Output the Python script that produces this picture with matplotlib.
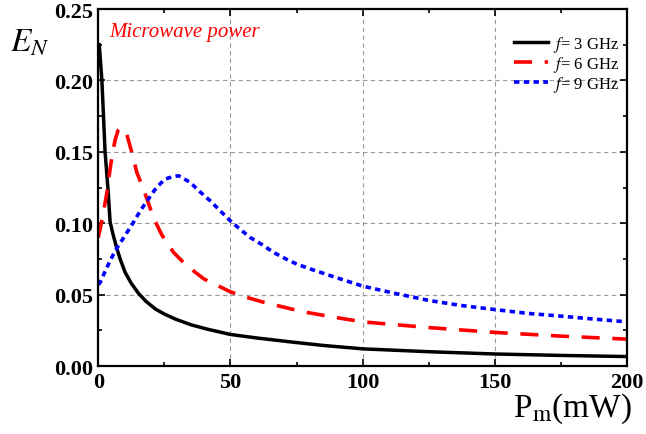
import matplotlib
matplotlib.use("Agg")
import matplotlib.pyplot as plt
from matplotlib.ticker import MultipleLocator, FormatStrFormatter

plt.rcParams["font.family"] = ["Liberation Serif", "DejaVu Serif"]
plt.rcParams["mathtext.fontset"] = "stix"

# f = 3 GHz
x3 = [0.4, 1.4, 2.6, 3.7, 4.5, 5.5, 7.1, 8.5, 10.2, 12.5, 15.2, 18, 21.6, 25, 29.1, 35, 41, 49.9,
      60, 72.6, 85, 100, 125, 150, 175, 200]
y3 = [0.225, 0.20, 0.15, 0.124, 0.101, 0.093, 0.082, 0.074, 0.0656, 0.058, 0.051, 0.0455, 0.040,
      0.0365, 0.033, 0.029, 0.026, 0.0222, 0.0197, 0.0170, 0.0145, 0.0121, 0.0101, 0.0085, 0.0075, 0.0067]
# f = 6 GHz
x6 = [0, 0.75, 2, 3.3, 4.5, 5.5, 6.5, 7.5, 8.7, 10, 11, 12.8, 14.6, 17.1, 20.9, 24, 28.5, 32, 36, 40,
      45.4, 50, 56.2, 62, 67, 73, 78.9, 90, 100, 125, 150, 175, 200]
y6 = [0.090, 0.096, 0.108, 0.1216, 0.138, 0.150, 0.159, 0.165, 0.167, 0.165, 0.161, 0.149, 0.1356,
      0.124, 0.104, 0.092, 0.0796, 0.073, 0.0667, 0.061, 0.0562, 0.052, 0.0481, 0.045, 0.0427, 0.040,
      0.0376, 0.034, 0.031, 0.027, 0.0236, 0.021, 0.0189]
# f = 9 GHz
x9 = [0, 0.75, 3, 6.4, 10, 13.3, 16, 19, 22, 25.3, 28, 30.4, 34.8, 38.5, 42.3, 46, 49.9, 53.5, 57.5,
      62, 66.3, 71, 75.1, 80.2, 90, 100, 112, 125, 137, 150, 162, 175, 187, 200]
y9 = [0.057, 0.0586, 0.068, 0.0807, 0.091, 0.1006, 0.109, 0.117, 0.125, 0.131, 0.1325, 0.1333, 0.1286,
      0.122, 0.1158, 0.109, 0.1018, 0.096, 0.090, 0.085, 0.0796, 0.075, 0.0714, 0.068, 0.062, 0.056,
      0.051, 0.046, 0.0425, 0.0396, 0.037, 0.035, 0.033, 0.031]

fig = plt.figure(figsize=(6.46, 4.35), dpi=100)
ax = fig.add_axes([0.152, 0.156, 0.819, 0.821])

ax.plot(x3, y3, color="black", lw=2.5, label=r"$f$= 3 GHz")
ax.plot(x6, y6, color="red", lw=2.6, dashes=(5, 3.5), label=r"$f$= 6 GHz")
ax.plot(x9, y9, color="blue", lw=2.6, dashes=(1.5, 1.2), label=r"$f$= 9 GHz")

ax.set_xlim(0, 200)
ax.set_ylim(0, 0.25)
ax.xaxis.set_major_locator(MultipleLocator(50))
ax.xaxis.set_minor_locator(MultipleLocator(25))
ax.yaxis.set_major_locator(MultipleLocator(0.05))
ax.yaxis.set_minor_locator(MultipleLocator(0.025))
ax.yaxis.set_major_formatter(FormatStrFormatter("%.2f"))
ax.grid(True, which="major", color="#999999", ls=(0, (4, 3)), lw=0.8)
ax.tick_params(which="both", direction="in", top=True, right=True, width=1.2)
ax.tick_params(which="major", length=5, labelsize=16, pad=4)
ax.tick_params(which="minor", length=3)
for lab in ax.get_xticklabels() + ax.get_yticklabels():
    lab.set_fontweight("bold")
for s in ax.spines.values():
    s.set_linewidth(1.6)

fig.text(0.015, 0.885, r"$E_N$", fontsize=24)
fig.text(0.978, 0.02, r"P$_{\mathrm{m}}$(mW)", fontsize=24, ha="right", va="bottom")
ax.text(0.02, 0.936, "Microwave power", transform=ax.transAxes, color="red",
        fontsize=15, style="italic", va="center")

ax.legend(loc="upper right", frameon=False, fontsize=12, handlelength=2.0,
          handletextpad=0.3, labelspacing=0.0, borderaxespad=0.3,
          bbox_to_anchor=(1.006, 0.964))

fig.savefig("out.png", dpi=100)
